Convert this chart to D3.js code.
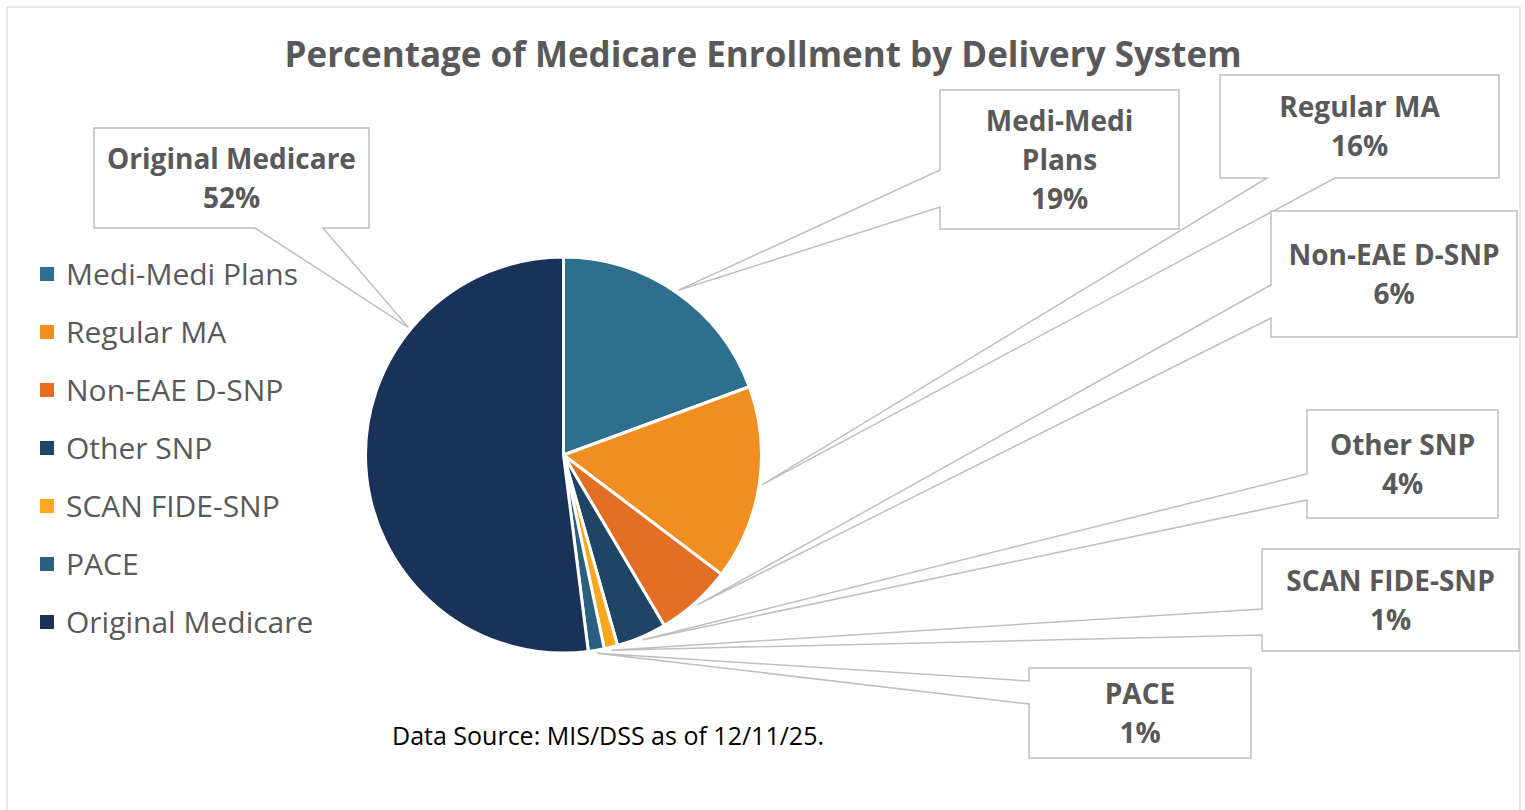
<!DOCTYPE html>
<html>
<head>
<meta charset="utf-8">
<script src="https://cdn.jsdelivr.net/npm/d3@7"></script>
<style>
  body { margin: 0; background: #fff; }
  svg { display: block; font-family: 'Open Sans', 'Noto Sans', sans-serif; }
</style>
</head>
<body>
<svg id="chart" width="1525" height="810"></svg>
<script>
// ------------------------------------------
//  Data
// ------------------------------------------
const title = 'Percentage of Medicare Enrollment by Delivery System'
const note = 'Data Source: MIS/DSS as of 12/11/25.'
const categories = ['Medi-Medi Plans', 'Regular MA', 'Non-EAE D-SNP', 'Other SNP', 'SCAN FIDE-SNP', 'PACE', 'Original Medicare']
const shares = [19.4, 15.9, 6.2, 4.1, 1.1, 1.3, 52.0]
const labelLines = [['Medi-Medi', 'Plans'], ['Regular MA'], ['Non-EAE D-SNP'], ['Other SNP'], ['SCAN FIDE-SNP'], ['PACE'], ['Original Medicare']]
const colors = ['#2e6e8e', '#f08e22', '#e36f25', '#1f4466', '#f9a81e', '#2a5f80', '#1a3158']

// callout boxes: x, y, w, h, which edge carries the tail, tail base, where on the slice the tail points
const callouts = [
  { box: [940, 90, 239, 139], edge: 'left', base: [170, 207], at: 0.5 },
  { box: [1220, 75, 279, 103], edge: 'bottom', base: [1267, 1335], at: 0.5 },
  { box: [1271, 211, 246, 126], edge: 'left', base: [285, 318], at: 0.5 },
  { box: [1307, 410, 191, 108], edge: 'left', base: [474, 500], at: 0.5 },
  { box: [1262, 549, 257, 102], edge: 'left', base: [609, 635], at: 0.5 },
  { box: [1029, 668, 222, 90], edge: 'left', base: [681, 704], at: 0.5 },
  { box: [94, 128, 275, 100], edge: 'bottom', base: [255, 323], at: 0.73 }
]

// ------------------------------------------
//  Chart
// ------------------------------------------
const svg = d3.select('#chart')
const cx = 563.5, cy = 455, radius = 198
const fmt = d3.format('.0f')

svg.append('rect')
  .attr('x', 7).attr('y', 7).attr('width', 1513).attr('height', 820)
  .attr('fill', '#fff').attr('stroke', '#d9d9d9').attr('stroke-width', 1.2)

svg.append('text')
  .attr('x', 763).attr('y', 55)
  .attr('dy', '0.35em')
  .attr('text-anchor', 'middle')
  .attr('font-size', 35).attr('font-weight', 700)
  .attr('fill', '#595959')
  .text(title)

const pie = d3.pie().sort(null).value(d => d)
const arcs = pie(shares)
const arc = d3.arc().innerRadius(0).outerRadius(radius)

const g = svg.append('g').attr('transform', `translate(${cx},${cy})`)
g.selectAll('path.slice')
  .data(arcs)
  .enter().append('path')
  .attr('class', 'slice')
  .attr('d', arc)
  .attr('fill', (d, i) => colors[i])
  .attr('stroke', '#fff')
  .attr('stroke-width', 3)
  .attr('stroke-linejoin', 'round')

// ------------------------------------------
//  Callouts
// ------------------------------------------
function calloutPath(c, tip) {
  const [x, y, w, h] = c.box
  let pts
  if (c.edge === 'left') {
    pts = [[x, y], [x + w, y], [x + w, y + h], [x, y + h], [x, c.base[1]], tip, [x, c.base[0]]]
  } else {
    pts = [[x, y], [x + w, y], [x + w, y + h], [c.base[1], y + h], tip, [c.base[0], y + h], [x, y + h]]
  }
  return d3.line()(pts) + 'Z'
}

const cg = svg.append('g')
arcs.forEach((d, i) => {
  const c = callouts[i]
  const a = d.startAngle + c.at * (d.endAngle - d.startAngle)
  const r = radius + 3
  const tip = [cx + r * Math.sin(a), cy - r * Math.cos(a)]

  cg.append('path')
    .attr('d', calloutPath(c, tip))
    .attr('fill', '#fff')
    .attr('stroke', '#bfbfbf')
    .attr('stroke-width', 1.5)

  const [x, y, w, h] = c.box
  const lines = labelLines[i].concat([fmt(shares[i]) + '%'])
  const lh = 39
  const top = y + h / 2 - (lines.length - 1) * lh / 2
  const t = cg.append('text')
    .attr('text-anchor', 'middle')
    .attr('font-size', 28).attr('font-weight', 700)
    .attr('fill', '#595959')
  lines.forEach((s, k) => {
    t.append('tspan')
      .attr('x', x + w / 2)
      .attr('y', top + k * lh)
      .attr('dy', '0.36em')
      .text(s)
  })
})

// ------------------------------------------
//  Legend
// ------------------------------------------
const legend = svg.append('g')
  .selectAll('g')
  .data(categories)
  .enter().append('g')
  .attr('transform', (d, i) => `translate(40,${274.5 + i * 58})`)

legend.append('rect')
  .attr('x', 0).attr('y', -7.5)
  .attr('width', 14).attr('height', 14)
  .attr('fill', (d, i) => colors[i])

legend.append('text')
  .attr('x', 26).attr('dy', '0.35em')
  .attr('font-size', 30)
  .attr('fill', '#595959')
  .text(d => d)

svg.append('text')
  .attr('x', 392).attr('y', 736)
  .attr('dy', '0.35em')
  .attr('font-size', 25)
  .attr('fill', '#000')
  .text(note)
</script>
</body>
</html>
